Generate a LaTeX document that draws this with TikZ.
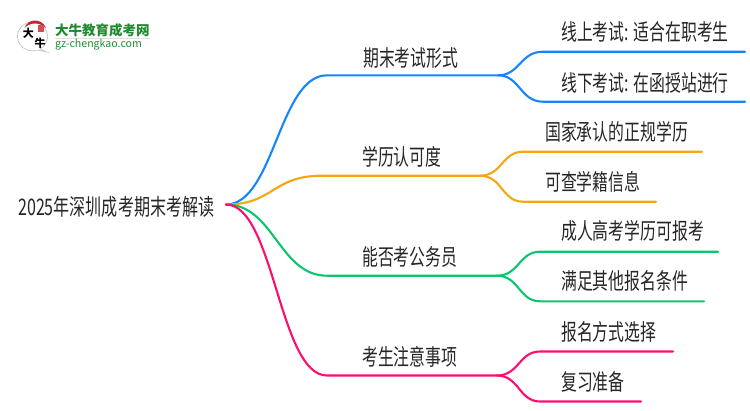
\documentclass[tikz,border=0pt]{standalone}
\usepackage{fontspec}
\setmainfont{Noto Sans CJK SC}
\definecolor{blueline}{HTML}{1485FB}
\definecolor{orangeline}{HTML}{F5A70F}
\definecolor{greenline}{HTML}{0CC56E}
\definecolor{pinkline}{HTML}{FB0E6E}
\definecolor{logogreen}{HTML}{1E8A32}
\definecolor{logored}{HTML}{C8232C}
\begin{document}
\begin{tikzpicture}[x=1pt,y=-1pt,line cap=round,
  topic/.style={anchor=base west,inner sep=0pt,font=\fontsize{15.85}{16}\selectfont,yscale=1.42,transform shape,text=black!85},
  link/.style={line width=2.1pt}]
  \useasboundingbox (0,0) rectangle (750,410);

  % logo
  \draw[gray!45,fill=white,line width=.7pt] (40,49) arc (60:-290:15 and 14.5) -- (47,52) -- cycle;
  \fill[logored] (24.5,28) .. controls (28,18) and (42,18) .. (46,28) .. controls (40,22) and (30,22) .. (24.5,28) -- cycle;
  \fill[logored!80] (38,25) rectangle (44,32);
  \node[inner sep=0pt,font=\fontsize{11}{11}\bfseries\selectfont] (logomarka) at (28.5,33) {大};
  \node[inner sep=0pt,font=\fontsize{11}{11}\bfseries\selectfont] (logomarkb) at (40,43) {牛};
  \node[anchor=west,inner sep=0pt,text=logogreen,font=\fontsize{13.5}{13.5}\bfseries\selectfont] (logoname) at (55,30) {大牛教育成考网};
  \draw[gray!25,line width=.8pt] (55,38.5) -- (150,38.5);
  \node[anchor=west,inner sep=0pt,text=logogreen,font=\fontsize{10.6}{10.6}\selectfont] (logourl) at (55,45) {gz-chengkao.com};

  \node[topic,font=\fontsize{16.05}{16}\selectfont] (root) at (18,215) {2025年深圳成考期末考解读};
  \coordinate (start) at (226,204.5);

  \node[topic] (a) at (363,66) {期末考试形式};
  \node[topic] (a1) at (561,40) {线上考试: 适合在职考生};
  \node[topic] (a2) at (561,91) {线下考试: 在函授站进行};
  \node[topic] (b) at (362,165.5) {学历认可度};
  \node[topic] (b1) at (545,140) {国家承认的正规学历};
  \node[topic] (b2) at (545,190) {可查学籍信息};
  \node[topic] (c) at (362,265.5) {能否考公务员};
  \node[topic] (c1) at (561,239) {成人高考学历可报考};
  \node[topic] (c2) at (561,289) {满足其他报名条件};
  \node[topic] (d) at (362,365.5) {考生注意事项};
  \node[topic] (d1) at (561,340) {报名方式选择};
  \node[topic] (d2) at (561,390) {复习准备};

  \coordinate (aj) at (498,75.3);  \coordinate (bj) at (480,175.7);
  \coordinate (cj) at (497,275.7); \coordinate (dj) at (497,375.5);

  \draw[link,blueline] (start) .. controls (274,204.5) and (279,75.3) .. (327,75.3) -- (aj);
  \draw[link,blueline] (aj) .. controls (520,75.3) and (520,51.7) .. (543,51.7) -- (745,51.7);
  \draw[link,blueline] (aj) .. controls (520,75.3) and (520,101.7) .. (543,101.7) -- (745,101.7);

  \draw[link,orangeline] (start) .. controls (274,204.5) and (272,175.7) .. (322,175.7) -- (bj);
  \draw[link,orangeline] (bj) .. controls (502,175.7) and (502,151.7) .. (523,151.7) -- (702,151.7);
  \draw[link,orangeline] (bj) .. controls (502,175.7) and (502,201.7) .. (523,201.7) -- (656,201.7);

  \draw[link,greenline] (start) .. controls (274,204.5) and (279,275.7) .. (327,275.7) -- (cj);
  \draw[link,greenline] (cj) .. controls (519,275.7) and (519,251.7) .. (540,251.7) -- (718,251.7);
  \draw[link,greenline] (cj) .. controls (519,275.7) and (519,301.3) .. (540,301.3) -- (704,301.3);

  \draw[link,pinkline] (start) .. controls (274,204.5) and (279,375.5) .. (327,375.5) -- (dj);
  \draw[link,pinkline] (dj) .. controls (519,375.5) and (519,351.5) .. (540,351.5) -- (673,351.5);
  \draw[link,pinkline] (dj) .. controls (519,375.5) and (519,401.5) .. (540,401.5) -- (641,401.5);
\end{tikzpicture}
\end{document}
